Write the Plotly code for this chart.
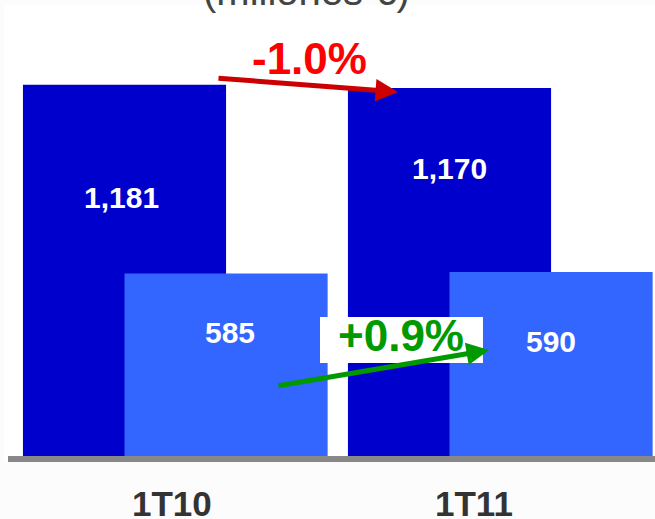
import plotly.graph_objects as go

categories = ["1T10", "1T11"]
total_values = [1181, 1170]
sub_values = [585, 590]
total_labels = ["1,181", "1,170"]
sub_labels = ["585", "590"]
growth_total = "-1.0%"
growth_sub = "+0.9%"
title_text = "(millones €)"

DARK = "#0000CC"
LIGHT = "#3366FF"
FONT = "Liberation Sans, Arial, sans-serif"

fig = go.Figure()
fig.add_trace(go.Bar(x=categories, y=total_values, marker=dict(color=DARK, line=dict(width=0)),
                     width=0.625, offset=-0.3125, hoverinfo="skip"))
fig.add_trace(go.Bar(x=categories, y=sub_values, marker=dict(color=LIGHT, line=dict(width=0)),
                     width=0.625, offset=0.0, hoverinfo="skip"))

ann = []
# value labels
tot_pos = [(-0.008, 826), (1.0, 915)]
sub_pos = [(0.325, 400), (1.311, 372)]
for (x, y), t in zip(tot_pos, total_labels):
    ann.append(dict(x=x, y=y, text=t, showarrow=False, xanchor="center", yanchor="middle",
                    font=dict(family=FONT, size=30, color="white", weight="bold")))
for (x, y), t in zip(sub_pos, sub_labels):
    ann.append(dict(x=x, y=y, text=t, showarrow=False, xanchor="center", yanchor="middle",
                    font=dict(family=FONT, size=30, color="white", weight="bold")))
# category labels
for x, t in zip([0.258, 0.722], categories):
    ann.append(dict(x=x, y=-0.0908, xref="paper", yref="paper", text=t, showarrow=False,
                    xanchor="center", yanchor="middle",
                    font=dict(family=FONT, size=35, color="#333333", weight="bold")))
# growth labels
ann.append(dict(x=0.569, y=1262, text=growth_total, showarrow=False, xanchor="center", yanchor="middle",
                font=dict(family=FONT, size=44, color="#FF0000", weight="bold")))
ann.append(dict(x=0.851, y=390, text=growth_sub, showarrow=False, xanchor="center", yanchor="middle",
                font=dict(family=FONT, size=44, color="#009900", weight="bold")))
# arrows
ann.append(dict(x=0.8415, y=1157.7, ax=-181, ay=-14, text="", showarrow=True, arrowhead=2,
                arrowsize=0.9, arrowwidth=5, arrowcolor="#CC0000", standoff=0, startstandoff=0))
ann.append(dict(x=1.1215, y=343.8, ax=-212, ay=36, text="", showarrow=True, arrowhead=2,
                arrowsize=0.9, arrowwidth=5, arrowcolor="#009900", standoff=0, startstandoff=0))
# title (cut off at top)
ann.append(dict(x=0.4654, y=1.0315, xref="paper", yref="paper", text=title_text, showarrow=False,
                xanchor="center", yanchor="middle",
                font=dict(family=FONT, size=40, color="#444444")))

shapes = [
    dict(type="rect", xref="x", yref="y", x0=0.6015, x1=1.103, y0=302.8, y1=448,
         fillcolor="white", line=dict(width=0), layer="above"),
    dict(type="line", xref="x", yref="y", x0=-0.3585, x1=1.7, y0=0, y1=0,
         line=dict(color="#888888", width=6), layer="above"),
]

fig.update_layout(
    width=655, height=519,
    margin=dict(l=4, r=0, t=5, b=57, pad=0),
    paper_bgcolor="#FCFCFC", plot_bgcolor="white",
    barmode="overlay", showlegend=False,
    xaxis=dict(type="category", range=[-0.3708, 1.6323], showticklabels=False, showgrid=False,
               zeroline=False, showline=False, ticks=""),
    yaxis=dict(range=[-9.46, 1432.2], showticklabels=False, showgrid=False, zeroline=False,
               showline=False, ticks=""),
    annotations=ann, shapes=shapes,
)

fig.write_html("out.html")
